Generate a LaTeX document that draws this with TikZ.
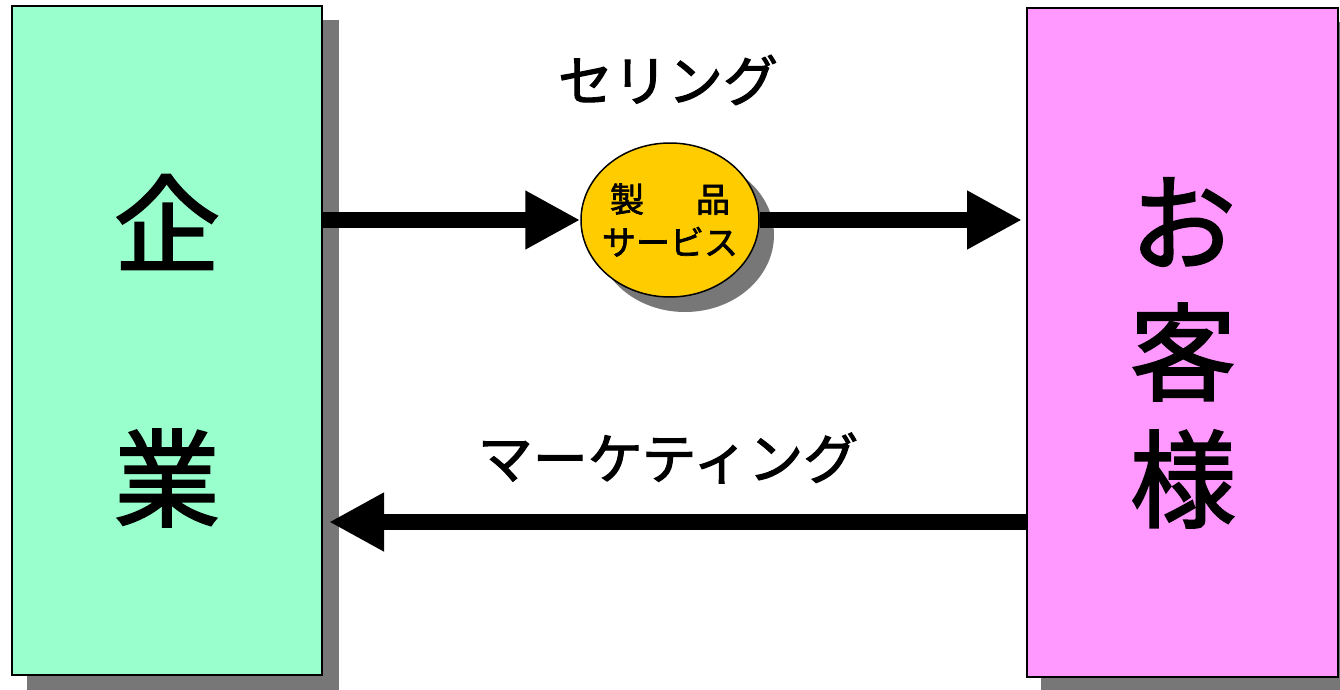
\documentclass[tikz,border=0pt]{standalone}
\usepackage{fontspec}
\setmainfont[FakeBold=2]{Noto Sans CJK JP}
\usetikzlibrary{arrows.meta,shapes.geometric,backgrounds}
\definecolor{mint}{HTML}{99FFCC}
\definecolor{pinkc}{HTML}{FF99FF}
\definecolor{goldc}{HTML}{FFCC00}
\definecolor{shadowc}{HTML}{777777}
\tikzset{
  bigbox/.style={draw=black, line width=2pt, minimum width=310pt, minimum height=669pt, inner sep=0pt},
  goods/.style={ellipse, draw=black, line width=1.5pt, fill=goldc, minimum width=178pt, minimum height=154pt, inner sep=0pt},
  goodstext/.style={align=center, inner sep=0pt, font=\fontsize{34}{43}\selectfont},
  bigchar/.style={font=\fontsize{106}{106}\selectfont, inner sep=0pt},
  label/.style={font=\fontsize{55}{55}\selectfont, inner sep=0pt},
  flow/.style={line width=16pt, -{Triangle[length=55pt,width=55pt]}},
}
\begin{document}
\begin{tikzpicture}[x=1pt,y=-1pt]
\useasboundingbox (0,0) rectangle (1340,690);
\node[bigbox, fill=mint] (kigyo) at (167,340.5) {};
\node[bigbox, fill=pinkc, minimum width=311pt] (okyaku) at (1182.5,342.5) {};
\node[goods] (seihin) at (670,220) {};
\node[goodstext] (seihintext) at (seihin.center) {製\hspace{52pt}品\\サービス};
\begin{scope}[on background layer]
  \fill[shadowc] ([shift={(16,15)}]kigyo.south west) rectangle ([shift={(16,15)}]kigyo.north east);
  \fill[shadowc] ([shift={(15,15)}]okyaku.south west) rectangle ([shift={(15,15)}]okyaku.north east);
  \fill[shadowc] (685,235) ellipse [x radius=89, y radius=77];
\end{scope}
\node[bigchar] (ki) at (167,222) {企};
\node[bigchar] (gyo) at (167,478) {業};
\node[bigchar] (o) at (1183,222) {お};
\node[bigchar] (kyaku) at (1183,352) {客};
\node[bigchar] (sama) at (1183,479) {様};
\node[label] (selling) at (668,80) {セリング};
\node[label] (marketing) at (668,458) {マーケティング};
\coordinate (lowy) at (0,522);
\draw[flow] (kigyo.east |- seihin.west) -- (seihin.west);
\draw[flow, shorten >=4pt] (seihin.east) -- (okyaku.west |- seihin.east);
\draw[flow, shorten >=6pt] (okyaku.west |- lowy) -- (kigyo.east |- lowy);
\end{tikzpicture}
\end{document}
